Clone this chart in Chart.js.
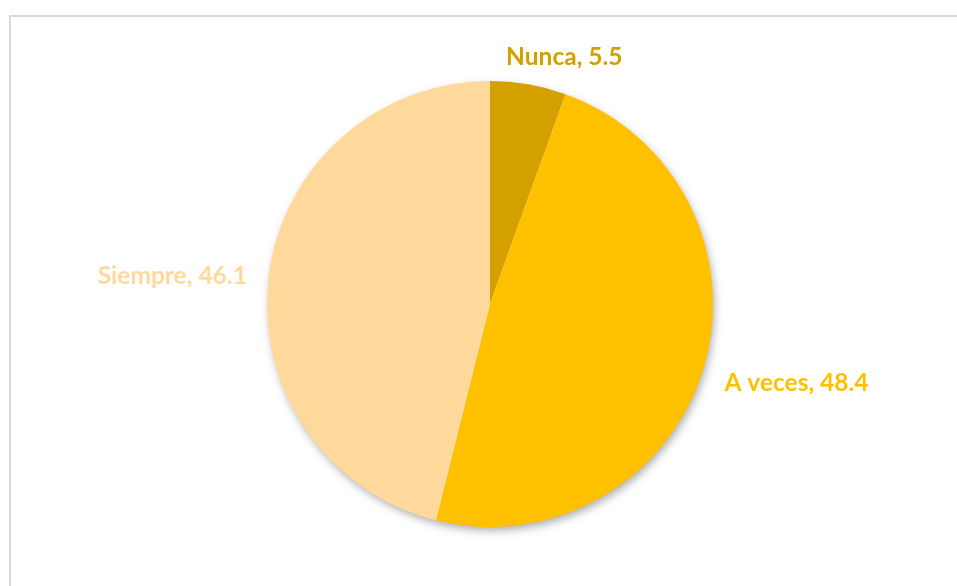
<!DOCTYPE html>
<html>
<head>
<meta charset="utf-8">
<script src="https://cdn.jsdelivr.net/npm/chart.js@4"></script>
<style>
  html, body { margin: 0; padding: 0; background: #fff; }
  #wrap { position: relative; width: 957px; height: 586px; overflow: hidden; }
  #frame { position: absolute; left: 9px; top: 15px; width: 960px; height: 600px; border: 2px solid #d9d9d9; box-sizing: border-box; pointer-events: none; }
  canvas { position: absolute; left: 0; top: 0; }
</style>
</head>
<body>
<div id="wrap">
  <canvas id="myChart" width="957" height="586"></canvas>
  <div id="frame"></div>
</div>
<script>
const categories = ['Nunca', 'A veces', 'Siempre'];
const values = [5.5, 48.4, 46.1];
const sliceColors = ['#D4A000', '#FFC000', '#FFD99B'];

// sombra del pastel, dibujada bajo los sectores
const pieShadow = {
    id: 'pieShadow',
    beforeDatasetsDraw(chart) {
        const arc = chart.getDatasetMeta(0).data[0];
        if (!arc) return;
        const ctx = chart.ctx;
        ctx.save();
        ctx.shadowColor = 'rgba(0,0,0,0.35)';
        ctx.shadowBlur = 10;
        ctx.shadowOffsetX = 2;
        ctx.shadowOffsetY = 4;
        ctx.fillStyle = '#ffffff';
        ctx.beginPath();
        ctx.arc(arc.x, arc.y, arc.outerRadius - 1, 0, Math.PI * 2);
        ctx.fill();
        ctx.restore();
    }
};

// etiquetas "Categoría, valor" fuera de cada sector
const outsideLabels = {
    id: 'outsideLabels',
    afterDatasetsDraw(chart) {
        const ctx = chart.ctx;
        const nudge = [[-26, -6], [0, 8], [0, 2]];
        chart.getDatasetMeta(0).data.forEach((arc, i) => {
            const mid = (arc.startAngle + arc.endAngle) / 2;
            const r = arc.outerRadius + 22;
            let x = arc.x + Math.cos(mid) * r;
            let y = arc.y + Math.sin(mid) * r;
            ctx.save();
            ctx.font = 'bold 24.5px Lato, "Open Sans", sans-serif';
            ctx.fillStyle = sliceColors[i];
            ctx.textBaseline = 'middle';
            ctx.textAlign = Math.cos(mid) < 0 ? 'right' : 'left';
            ctx.fillText(categories[i] + ', ' + values[i], x + nudge[i][0], y + nudge[i][1]);
            ctx.restore();
        });
    }
};

const ctx = document.getElementById('myChart').getContext('2d');
new Chart(ctx, {
    type: 'pie',
    data: {
        labels: categories,
        datasets: [{
            data: values,
            backgroundColor: sliceColors,
            borderWidth: 0
        }]
    },
    options: {
        responsive: false,
        animation: false,
        layout: { padding: { top: 81, bottom: 59, left: 80, right: 57 } },
        plugins: {
            legend: { display: false },
            tooltip: { enabled: false }
        }
    },
    plugins: [pieShadow, outsideLabels]
});
</script>
</body>
</html>
